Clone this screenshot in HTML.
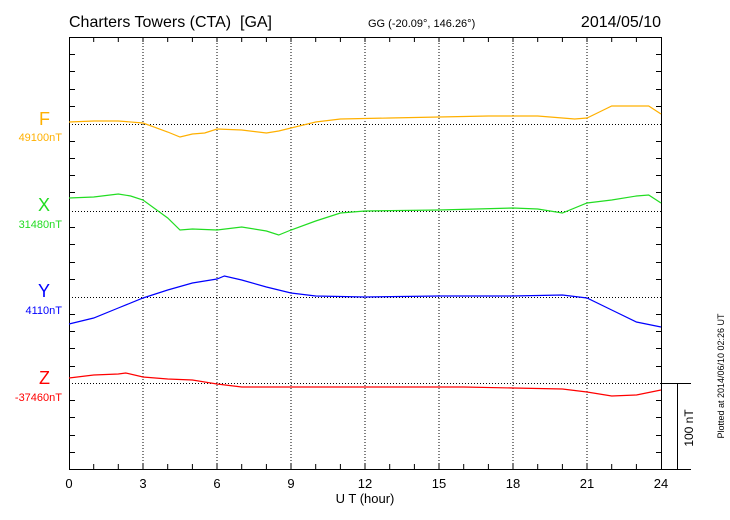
<!DOCTYPE html>
<html><head><style>
body{margin:0;background:#fff;}
svg{display:block;font-family:"Liberation Sans",sans-serif;}
</style></head><body>
<svg width="730" height="520" viewBox="0 0 730 520" xmlns="http://www.w3.org/2000/svg">
<rect width="730" height="520" fill="#fff"/>
<text x="69" y="27" font-size="16">Charters Towers (CTA)&#160; [GA]</text>
<text x="368" y="27" font-size="11">GG (-20.09°, 146.26°)</text>
<text x="661" y="27" font-size="16" text-anchor="end">2014/05/10</text>
<g stroke="#000" stroke-width="1" stroke-dasharray="1,2" fill="none">
<line x1="143" y1="37" x2="143" y2="469"/><line x1="217" y1="37" x2="217" y2="469"/>
<line x1="291" y1="37" x2="291" y2="469"/><line x1="365" y1="37" x2="365" y2="469"/>
<line x1="439" y1="37" x2="439" y2="469"/><line x1="513" y1="37" x2="513" y2="469"/>
<line x1="587" y1="37" x2="587" y2="469"/>
<line x1="69" y1="124.5" x2="662" y2="124.5"/><line x1="69" y1="211.5" x2="662" y2="211.5"/>
<line x1="69" y1="297.5" x2="662" y2="297.5"/><line x1="69" y1="383.5" x2="662" y2="383.5"/>
</g>
<line x1="662" y1="383.5" x2="691" y2="383.5" stroke="#000"/>
<line x1="677.5" y1="383" x2="677.5" y2="469" stroke="#000"/>
<line x1="662" y1="469.5" x2="691" y2="469.5" stroke="#000"/>
<rect x="69.5" y="37.5" width="592" height="432" fill="none" stroke="#000"/>
<path stroke="#000" fill="none" d="
M93.7 37v5M118.3 37v5M143 37v5M167.7 37v5M192.4 37v5M217 37v5M241.7 37v5M266.4 37v5M291 37v5M315.7 37v5M340.4 37v5M365 37v5M389.7 37v5M414.4 37v5M439 37v5M463.7 37v5M488.4 37v5M513 37v5M537.7 37v5M562.4 37v5M587 37v5M611.7 37v5M636.4 37v5
M93.7 469v-5M118.3 469v-5M143 469v-5M167.7 469v-5M192.4 469v-5M217 469v-5M241.7 469v-5M266.4 469v-5M291 469v-5M315.7 469v-5M340.4 469v-5M365 469v-5M389.7 469v-5M414.4 469v-5M439 469v-5M463.7 469v-5M488.4 469v-5M513 469v-5M537.7 469v-5M562.4 469v-5M587 469v-5M611.7 469v-5M636.4 469v-5
M69 54.5h6M69 71.5h6M69 89.5h6M69 106.5h6M69 141.5h6M69 158.5h6M69 175.5h6M69 192.5h6M69 227.5h6M69 244.5h6M69 262.5h6M69 279.5h6M69 314.5h6M69 331.5h6M69 348.5h6M69 366.5h6M69 400.5h6M69 417.5h6M69 435.5h6M69 452.5h6
M662 54.5h-6M662 71.5h-6M662 89.5h-6M662 106.5h-6M662 141.5h-6M662 158.5h-6M662 175.5h-6M662 192.5h-6M662 227.5h-6M662 244.5h-6M662 262.5h-6M662 279.5h-6M662 314.5h-6M662 331.5h-6M662 348.5h-6M662 366.5h-6M662 400.5h-6M662 417.5h-6M662 435.5h-6M662 452.5h-6"/>
<g font-size="13" text-anchor="middle">
<text x="69" y="488">0</text><text x="143" y="488">3</text><text x="217" y="488">6</text>
<text x="291" y="488">9</text><text x="365" y="488">12</text><text x="439" y="488">15</text>
<text x="513" y="488">18</text><text x="587" y="488">21</text><text x="661" y="488">24</text>
<text x="365" y="503">U T (hour)</text>
</g>
<text transform="translate(693,428) rotate(-90)" font-size="12" text-anchor="middle">100 nT</text>
<text transform="translate(724,376) rotate(-90)" font-size="9" text-anchor="middle">Plotted at 2014/06/10 02:26 UT</text>
<g text-anchor="end">
<text x="50" y="125" font-size="18" fill="#ffb000">F</text>
<text x="62" y="141" font-size="11" fill="#ffb000">49100nT</text>
<text x="50" y="211" font-size="18" fill="#22dd22">X</text>
<text x="62" y="228" font-size="11" fill="#22dd22">31480nT</text>
<text x="50" y="297" font-size="18" fill="#0000ff">Y</text>
<text x="62" y="314" font-size="11" fill="#0000ff">4110nT</text>
<text x="50" y="384" font-size="18" fill="#ff0000">Z</text>
<text x="62" y="401" font-size="11" fill="#ff0000">-37460nT</text>
</g>
<g fill="none" stroke-width="1.2">
<polyline stroke="#ffb000" points="69,122 93.7,121 118.3,121 143,123 167.7,132 180,137 192.4,134 204.7,133 217,129 241.7,130 266.4,133 278.7,131 291,128 315.7,122 340.4,119 389.7,118 439,117 488.4,116 537.7,116 562.4,118 574.7,119 587,118 599.4,112 611.7,106 648.7,106 661,114"/>
<polyline stroke="#22dd22" points="69,198 93.7,197 118.3,194 130.7,196 143,200 167.7,218 180,230 192.4,229 217,230 241.7,227 266.4,231 278.7,235 291,230 315.7,221 340.4,213 365,211 439,210 513,208 537.7,209 562.4,213 587,203 611.7,200 636.4,196 648.7,195 661,203"/>
<polyline stroke="#0000ff" points="69,324 93.7,318 118.3,308 143,298 167.7,290 192.4,283 217,279 224.4,276 241.7,280 266.4,287 291,293 315.7,296 365,297 439,296 513,296 562.4,295 587,298 611.7,310 636.4,322 661,327"/>
<polyline stroke="#ff0000" points="69,378 93.7,375 118.3,374 125.7,373 143,377 167.7,379 192.4,380 217,384 241.7,387 365,387 463.7,387 513,388 562.4,389 587,392 611.7,396 636.4,395 661,390"/>
</g>
</svg>
</body></html>
